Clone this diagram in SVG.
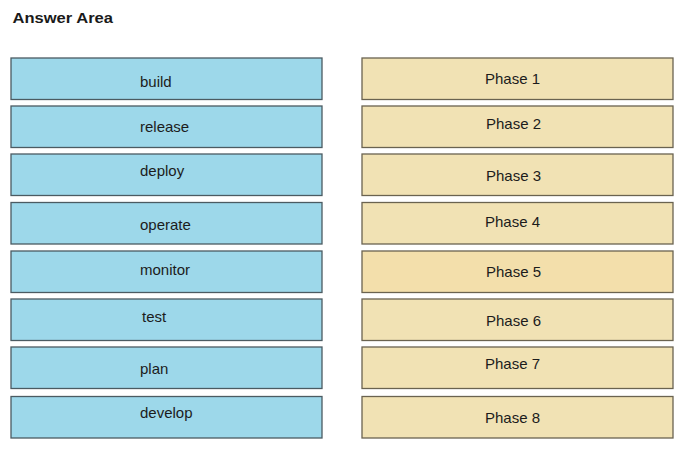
<svg xmlns="http://www.w3.org/2000/svg" width="688" height="455" viewBox="0 0 688 455">
<style>
.t{font-family:"Liberation Sans",Arial,sans-serif;font-size:15px;fill:#1c1c1c}
.b{fill:#9dd8ea;stroke:#4b5b62;stroke-width:1.3}
.p{fill:#f1e2b4;stroke:#6a6350;stroke-width:1.3}
.h{font-family:"Liberation Sans",Arial,sans-serif;font-size:15px;font-weight:bold;fill:#1a1a1a}
</style>
<rect width="688" height="455" fill="#ffffff"/>
<text class="h" x="12.5" y="22.5" textLength="100.5" lengthAdjust="spacingAndGlyphs">Answer Area</text>
<g id="build"><rect class="b" x="11" y="58" width="311" height="41.5"/><text class="t" x="140" y="87">build</text></g>
<g id="release"><rect class="b" x="11" y="106" width="311" height="41.5"/><text class="t" x="140" y="131.5">release</text></g>
<g id="deploy"><rect class="b" x="11" y="154" width="311" height="41.5"/><text class="t" x="140" y="176">deploy</text></g>
<g id="operate"><rect class="b" x="11" y="202.5" width="311" height="41.5"/><text class="t" x="140" y="230">operate</text></g>
<g id="monitor"><rect class="b" x="11" y="251" width="311" height="41.5"/><text class="t" x="140" y="275">monitor</text></g>
<g id="test"><rect class="b" x="11" y="299" width="311" height="41.5"/><text class="t" x="142" y="321.5">test</text></g>
<g id="plan"><rect class="b" x="11" y="347" width="311" height="41.5"/><text class="t" x="140" y="374">plan</text></g>
<g id="develop"><rect class="b" x="11" y="396.5" width="311" height="41.5"/><text class="t" x="140" y="417.5">develop</text></g>
<g id="phase1"><rect class="p" x="362" y="58" width="311" height="41.5"/><text class="t" x="485" y="83.5">Phase 1</text></g>
<g id="phase2"><rect class="p" x="362" y="106" width="311" height="41.5"/><text class="t" x="486" y="129">Phase 2</text></g>
<g id="phase3"><rect class="p" x="362" y="154" width="311" height="41.5"/><text class="t" x="486" y="180.5">Phase 3</text></g>
<g id="phase4"><rect class="p" x="362" y="202.5" width="311" height="41.5"/><text class="t" x="485" y="226.5">Phase 4</text></g>
<g id="phase5"><rect class="p" x="362" y="251" width="311" height="41.5" style="fill:#f3dfab"/><text class="t" x="486" y="277">Phase 5</text></g>
<g id="phase6"><rect class="p" x="362" y="299" width="311" height="41.5"/><text class="t" x="486" y="326">Phase 6</text></g>
<g id="phase7"><rect class="p" x="362" y="347" width="311" height="41.5"/><text class="t" x="485" y="369">Phase 7</text></g>
<g id="phase8"><rect class="p" x="362" y="396.5" width="311" height="41.5"/><text class="t" x="485" y="423">Phase 8</text></g>
<g id="connectors"></g>
</svg>
